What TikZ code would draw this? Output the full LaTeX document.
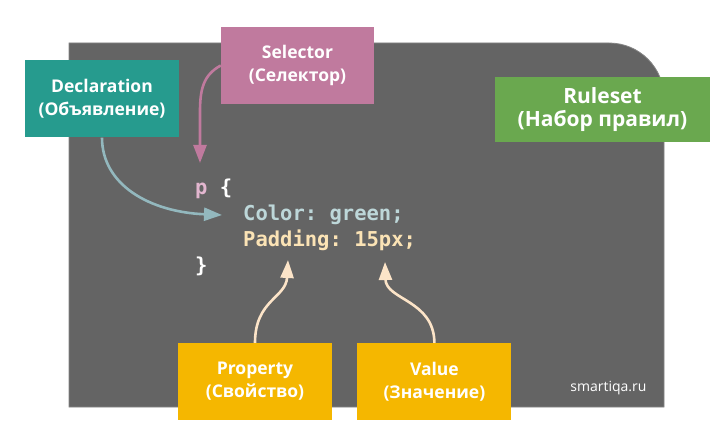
\documentclass[tikz,border=0pt]{standalone}
\usepackage{fontspec}
\setmainfont{Open Sans}
\setmonofont{DejaVu Sans Mono}
\usetikzlibrary{arrows.meta,positioning}
\definecolor{cssPanel}{HTML}{646464}
\definecolor{cssEdge}{HTML}{858585}
\definecolor{cssTeal}{HTML}{269B8E}
\definecolor{cssMauve}{HTML}{C07A9E}
\definecolor{cssGreen}{HTML}{6AA84F}
\definecolor{cssAmber}{HTML}{F5B700}
\definecolor{cssBlue}{HTML}{93B8BE}
\definecolor{cssCream}{HTML}{FCE4C8}
\definecolor{cssPink}{HTML}{E2B6CF}
\definecolor{cssCode}{HTML}{BDD7D9}
\definecolor{cssProp}{HTML}{FBE3B5}

\begin{document}
\begin{tikzpicture}[x=1pt, y=-1pt,
  lbl/.style={inner sep=0pt, minimum width=154pt, minimum height=77pt, align=center, text=white,
    font=\fontsize{17.5}{23}\selectfont\bfseries},
  code/.style={anchor=base west, inner sep=0pt, font=\ttfamily\bfseries\fontsize{20.5}{24}\selectfont},
  ptr/.style={-{Triangle[length=18pt, width=13pt]}, line width=2.6pt}]
\fill[white] (0,0) rectangle (720,435);
\useasboundingbox (0,0) rectangle (720,435);
% panel with one rounded corner
\filldraw[fill=cssPanel, draw=cssEdge, line width=0.8pt]
  (69,407) -- (69,43) -- (609,43) arc[start angle=270, end angle=360, radius=55] -- (664,407) -- cycle;
% code lines
\node[code, text=cssPink] (sel-p) at (195,195) {p\ \textcolor{white}{\{}};
\node[code, text=cssCode] (decl-l) at (243,221) {Color: green;};
\node[code, text=cssProp] (prop-l) at (243,247) {Padding: 15px;};
\node[code, text=white] (close) at (195,273) {\}};
\node[anchor=east, text=white, font=\fontsize{14}{16}\selectfont] (site) at (650,388) {smartiqa.ru};
% labels
\node[lbl, fill=cssTeal] (decl) at (102,99) {Declaration\\(Объявление)};
\node[lbl, fill=cssMauve, minimum width=153pt] (sel) at (297.5,65.5) {Selector\\(Селектор)};
\node[lbl, fill=cssGreen, minimum width=215pt, minimum height=65pt,
  font=\fontsize{21}{23}\selectfont\bfseries] (rule) at (602.5,109.5) {Ruleset\\(Набор правил)};
\node[lbl, fill=cssAmber] (prop) at (255,381.5) {Property\\(Свойство)};
\node[lbl, fill=cssAmber, right=25pt of prop] (val) {Value\\(Значение)};
% arrow tips
\coordinate (sel-tip) at (200,163);
\coordinate (decl-tip) at (222,215);
\coordinate (prop-tip) at (288,260);
\coordinate (val-tip) at (385,262);
% arrows
\draw[ptr, cssMauve] (sel.west) .. controls (203,75) and (200,90) .. (200,112) -- (sel-tip);
\draw[ptr, cssBlue] (decl.south) .. controls (102,185) and (150,212) .. (decl-tip);
\draw[ptr, cssCream] (prop.north) .. controls (255,300) and (286,298) .. (prop-tip);
\draw[ptr, cssCream] (val.north) .. controls (434,300) and (386,300) .. (val-tip);
\end{tikzpicture}
\end{document}
